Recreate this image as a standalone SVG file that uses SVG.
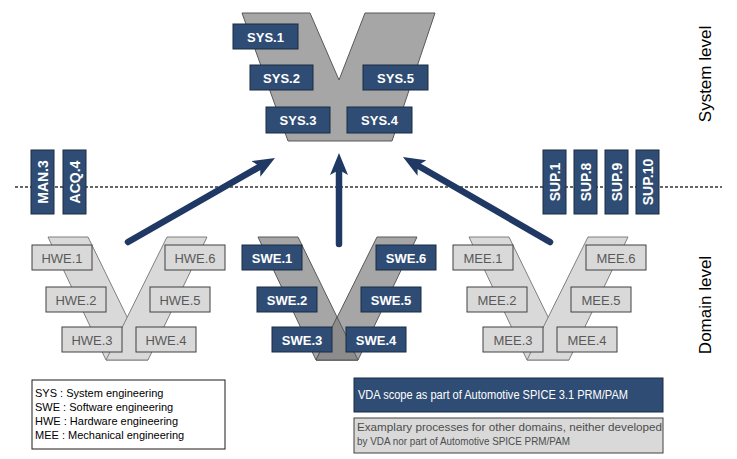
<svg xmlns="http://www.w3.org/2000/svg" width="737" height="459" viewBox="0 0 737 459">
<style>
.dk{fill:#2F4D74;stroke:#1B2A40;stroke-width:1}
.lt{fill:#D9D9D9;stroke:#404040;stroke-width:1}
.dt{font-family:"Liberation Sans",Arial,sans-serif;font-weight:bold;font-size:13px;fill:#FFFFFF;text-anchor:middle}
.vt{font-family:"Liberation Sans",Arial,sans-serif;font-weight:bold;font-size:14px;fill:#FFFFFF;text-anchor:middle}
.gt{font-family:"Liberation Sans",Arial,sans-serif;font-size:13px;fill:#595959;text-anchor:middle}
.vsys{fill:#A6A6A6;stroke:#595959;stroke-width:1}
.vlt{fill:#D9D9D9;stroke:#7F7F7F;stroke-width:1}
.vsw{fill:#A6A6A6;stroke:#595959;stroke-width:1}
.arr{stroke:#1F3864;stroke-width:6.5;stroke-linecap:round;fill:none}
.lg{font-family:"Liberation Sans",Arial,sans-serif;font-size:11px;fill:#000000}
.side{font-family:"Liberation Sans",Arial,sans-serif;font-size:17px;fill:#000000;text-anchor:middle}
.gl{font-family:"Liberation Sans",Arial,sans-serif;font-size:11px;fill:#4D4D4D}
</style>
<defs>
<marker id="ah" viewBox="0 0 22 18" markerWidth="22" markerHeight="18" refX="5" refY="9" orient="auto" markerUnits="userSpaceOnUse">
<path d="M0,0 L22,9 L0,18 L5,9 z" fill="#1F3864"/>
</marker>
</defs>
<rect width="737" height="459" fill="#FFFFFF"/>

<!-- level separator -->
<line x1="15" y1="187" x2="722" y2="187" stroke="#333333" stroke-width="1.5" stroke-dasharray="3,2"/>
<text class="side" transform="translate(711,74) rotate(-90)">System level</text>
<text class="side" transform="translate(711,305) rotate(-90)">Domain level</text>

<!-- System V -->
<g id="sys-v">
<polygon class="vsys" points="242,13 310,13 339,80 365,13 435,13 392,141 288,141"/>
</g>
<g id="SYS.1"><rect class="dk" x="233" y="24" width="65" height="25"/><text class="dt" x="265.5" y="41.5">SYS.1</text></g>
<g id="SYS.2"><rect class="dk" x="250" y="65" width="63" height="25"/><text class="dt" x="281.5" y="82.5">SYS.2</text></g>
<g id="SYS.5"><rect class="dk" x="363" y="65" width="65" height="25"/><text class="dt" x="395.5" y="82.5">SYS.5</text></g>
<g id="SYS.3"><rect class="dk" x="266" y="107" width="64" height="26"/><text class="dt" x="298" y="125">SYS.3</text></g>
<g id="SYS.4"><rect class="dk" x="347" y="107" width="65" height="26"/><text class="dt" x="379.5" y="125">SYS.4</text></g>

<!-- vertical process boxes -->
<g id="MAN.3"><rect class="dk" x="31" y="150" width="23" height="64"/><text class="vt" transform="translate(47.5,182) rotate(-90)">MAN.3</text></g>
<g id="ACQ.4"><rect class="dk" x="63" y="150" width="23" height="64"/><text class="vt" transform="translate(79.5,182) rotate(-90)">ACQ.4</text></g>
<g id="SUP.1"><rect class="dk" x="543" y="150" width="23" height="64"/><text class="vt" transform="translate(559.5,182) rotate(-90)">SUP.1</text></g>
<g id="SUP.8"><rect class="dk" x="574" y="150" width="23" height="64"/><text class="vt" transform="translate(590.5,182) rotate(-90)">SUP.8</text></g>
<g id="SUP.9"><rect class="dk" x="605" y="150" width="23" height="64"/><text class="vt" transform="translate(621.5,182) rotate(-90)">SUP.9</text></g>
<g id="SUP.10"><rect class="dk" x="636" y="150" width="23" height="64"/><text class="vt" transform="translate(652.5,182) rotate(-90)">SUP.10</text></g>

<!-- HWE V -->
<g id="hwe-v">
<polygon class="vlt" points="48,237 88,237 148,360 106,360"/>
<polygon class="vlt" points="167,237 207,237 148,360 106,360"/>
</g>
<g id="HWE.1"><rect class="lt" x="32" y="245" width="60" height="25"/><text class="gt" x="62" y="262.5">HWE.1</text></g>
<g id="HWE.6"><rect class="lt" x="165" y="245" width="60" height="25"/><text class="gt" x="195" y="262.5">HWE.6</text></g>
<g id="HWE.2"><rect class="lt" x="46" y="287" width="60" height="25"/><text class="gt" x="76" y="304.5">HWE.2</text></g>
<g id="HWE.5"><rect class="lt" x="150" y="287" width="60" height="25"/><text class="gt" x="180" y="304.5">HWE.5</text></g>
<g id="HWE.3"><rect class="lt" x="62" y="327" width="60" height="25"/><text class="gt" x="92" y="344.5">HWE.3</text></g>
<g id="HWE.4"><rect class="lt" x="136" y="327" width="60" height="25"/><text class="gt" x="166" y="344.5">HWE.4</text></g>

<!-- SWE V -->
<g id="swe-v">
<polygon class="vsw" points="258,237 298,237 358,360 316,360"/>
<polygon class="vsw" points="377,237 417,237 358,360 316,360"/>
<polygon points="337,317 316,360 358,360" fill="#8C8C8C" stroke="#595959" stroke-width="1"/>
</g>
<g id="SWE.1"><rect class="dk" x="242" y="245" width="60" height="25"/><text class="dt" x="272" y="262.5">SWE.1</text></g>
<g id="SWE.6"><rect class="dk" x="376" y="245" width="60" height="25"/><text class="dt" x="406" y="262.5">SWE.6</text></g>
<g id="SWE.2"><rect class="dk" x="257" y="287" width="60" height="25"/><text class="dt" x="287" y="304.5">SWE.2</text></g>
<g id="SWE.5"><rect class="dk" x="361" y="287" width="60" height="25"/><text class="dt" x="391" y="304.5">SWE.5</text></g>
<g id="SWE.3"><rect class="dk" x="272" y="327" width="60" height="25"/><text class="dt" x="302" y="344.5">SWE.3</text></g>
<g id="SWE.4"><rect class="dk" x="346" y="327" width="60" height="25"/><text class="dt" x="376" y="344.5">SWE.4</text></g>

<!-- MEE V -->
<g id="mee-v">
<polygon class="vlt" points="469,237 509,237 569,360 527,360"/>
<polygon class="vlt" points="588,237 628,237 569,360 527,360"/>
</g>
<g id="MEE.1"><rect class="lt" x="453" y="245" width="60" height="25"/><text class="gt" x="483" y="262.5">MEE.1</text></g>
<g id="MEE.6"><rect class="lt" x="586" y="245" width="60" height="25"/><text class="gt" x="616" y="262.5">MEE.6</text></g>
<g id="MEE.2"><rect class="lt" x="467" y="287" width="60" height="25"/><text class="gt" x="497" y="304.5">MEE.2</text></g>
<g id="MEE.5"><rect class="lt" x="571" y="287" width="60" height="25"/><text class="gt" x="601" y="304.5">MEE.5</text></g>
<g id="MEE.3"><rect class="lt" x="483" y="327" width="60" height="25"/><text class="gt" x="513" y="344.5">MEE.3</text></g>
<g id="MEE.4"><rect class="lt" x="557" y="327" width="60" height="25"/><text class="gt" x="587" y="344.5">MEE.4</text></g>

<!-- connectors -->
<g id="connectors">
<line class="arr" x1="128" y1="242" x2="260.2" y2="166.4" marker-end="url(#ah)"/>
<line class="arr" x1="339" y1="244" x2="339" y2="170" marker-end="url(#ah)"/>
<line class="arr" x1="550" y1="242" x2="417.7" y2="165.5" marker-end="url(#ah)"/>
</g>

<!-- legend -->
<g id="legend-abbrev">
<rect x="32" y="380" width="193" height="69" fill="#FFFFFF" stroke="#1a1a1a" stroke-width="1"/>
<text class="lg" x="35" y="397">SYS : System engineering</text>
<text class="lg" x="35" y="411">SWE : Software engineering</text>
<text class="lg" x="35" y="425">HWE : Hardware engineering</text>
<text class="lg" x="35" y="439">MEE : Mechanical engineering</text>
</g>
<g id="legend-vda">
<rect x="354" y="378" width="309" height="34" fill="#2F4D74" stroke="#1B2A40" stroke-width="1"/>
<text x="358" y="399" font-family="'Liberation Sans',Arial,sans-serif" font-size="12" fill="#FFFFFF" textLength="270" lengthAdjust="spacingAndGlyphs">VDA scope as part of Automotive SPICE 3.1 PRM/PAM</text>
</g>
<g id="legend-other">
<rect x="354" y="418" width="309" height="35" fill="#D9D9D9" stroke="#404040" stroke-width="1"/>
<text class="gl" x="357" y="431" textLength="305" lengthAdjust="spacingAndGlyphs">Examplary processes for other domains, neither developed</text>
<text class="gl" x="357" y="444.5" textLength="213" lengthAdjust="spacingAndGlyphs">by VDA nor part of Automotive SPICE PRM/PAM</text>
</g>
</svg>
